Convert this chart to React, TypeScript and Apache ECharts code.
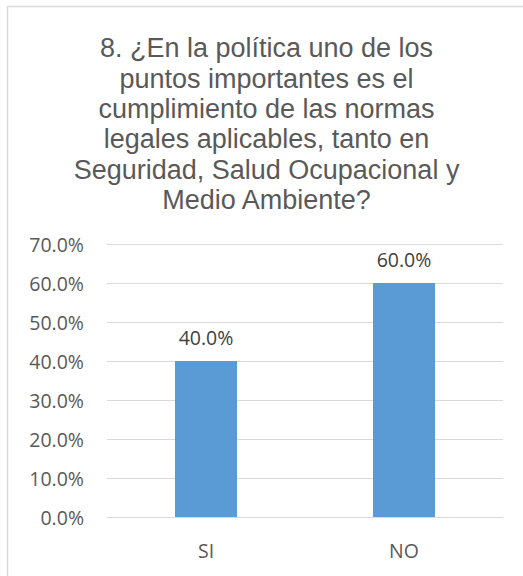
import React, { useEffect, useRef } from "react";
import * as echarts from "echarts";

const titleText =
  "8. ¿En la política uno de los\npuntos importantes es el\ncumplimiento de las normas\nlegales aplicables, tanto en\nSeguridad, Salud Ocupacional y\nMedio Ambiente?";
const categories = ["SI", "NO"];
const values = [40.0, 60.0];
const yMin = 0;
const yMax = 70;
const yInterval = 10;

export default function App() {
  const ref = useRef<HTMLDivElement>(null);
  useEffect(() => {
    if (!ref.current) return;
    const chart = echarts.init(ref.current, null, { renderer: "svg" });
    const titleFont = "Liberation Sans";
    const font = "Open Sans";
    chart.setOption({
      animation: false,
      backgroundColor: "#ffffff",
      title: {
        text: titleText,
        left: 261.5,
        textAlign: "center",
        top: 28,
        textStyle: {
          fontFamily: titleFont,
          fontSize: 27,
          fontWeight: "normal",
          color: "#595959",
          lineHeight: 30.4,
        },
      },
      graphic: [
        {
          type: "rect",
          shape: { x: 7.5, y: 6.5, width: 700, height: 700 },
          style: { fill: "none", stroke: "#d9d9d9", lineWidth: 1.5 },
          silent: true,
        },
      ],
      grid: { left: 107, right: 20, top: 244, bottom: 59, containLabel: false },
      xAxis: {
        type: "category",
        data: categories,
        axisLine: { show: true, lineStyle: { color: "#d9d9d9", width: 1 } },
        axisTick: { show: false },
        axisLabel: {
          color: "#595959",
          fontFamily: font,
          fontSize: 19.5,
          margin: 23,
        },
      },
      yAxis: {
        type: "value",
        min: yMin,
        max: yMax,
        interval: yInterval,
        axisLine: { show: false },
        axisTick: { show: false },
        splitLine: { lineStyle: { color: "#d9d9d9", width: 1 } },
        axisLabel: {
          color: "#595959",
          fontFamily: font,
          fontSize: 19.5,
          margin: 23,
          formatter: (v: number) => v.toFixed(1) + "%",
        },
      },
      series: [
        {
          type: "bar",
          data: values,
          barWidth: 62,
          itemStyle: { color: "#5b9bd5" },
          label: {
            show: true,
            position: "top",
            distance: 14,
            color: "#404040",
            fontFamily: font,
            fontSize: 19.5,
            formatter: (p: any) => Number(p.value).toFixed(1) + "%",
          },
        },
      ],
    });
    return () => chart.dispose();
  }, []);
  return (
    <div
      ref={ref}
      style={{ position: "absolute", left: 0, top: 0, width: 523, height: 576 }}
    />
  );
}
